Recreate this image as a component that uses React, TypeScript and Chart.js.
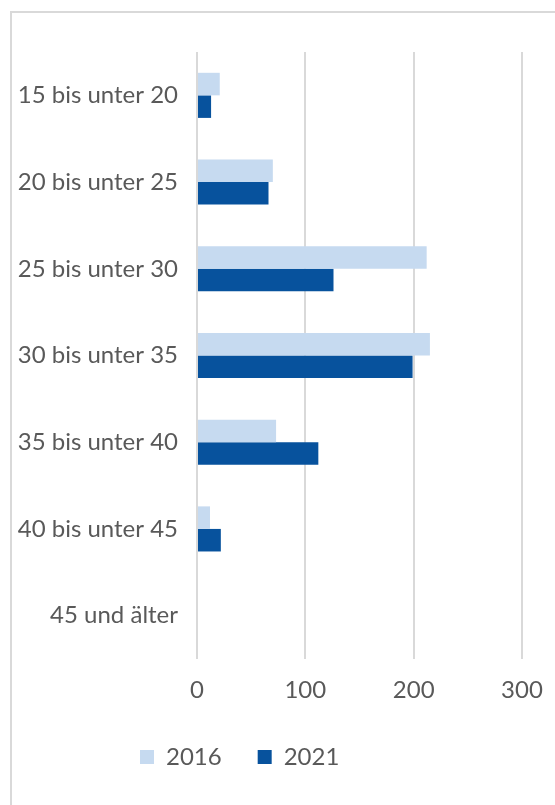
import React, { useEffect, useRef } from "react";
import { Chart, registerables } from "chart.js";

Chart.register(...registerables);

const categories = [
  "15 bis unter 20",
  "20 bis unter 25",
  "25 bis unter 30",
  "30 bis unter 35",
  "35 bis unter 40",
  "40 bis unter 45",
  "45 und älter",
];
const values2016 = [21, 70, 212, 215, 73, 12, 0];
const values2021 = [13, 66, 126, 199, 112, 22, 0];
const seriesLabels = ["2016", "2021"];
const xTicks = [0, 100, 200, 300];

const LIGHT = "#c6daf0";
const DARK = "#07529d";
const TEXT = "#595959";
const GRID = "#d9d9d9";
const FONT = "Lato";
const FS = 24;

const legendShift = {
  id: "legendShift",
  afterLayout(chart: any) {
    if (chart.legend) {
      const w = chart.legend.right - chart.legend.left;
      chart.legend.left = 104;
      chart.legend.right = 104 + w;
    }
  },
};

export default function App() {
  const ref = useRef<HTMLCanvasElement | null>(null);

  useEffect(() => {
    if (!ref.current) return;
    const chart = new Chart(ref.current, {
      type: "bar",
      data: {
        labels: categories,
        datasets: [
          { label: seriesLabels[0], data: values2016, backgroundColor: LIGHT, borderWidth: 0 },
          { label: seriesLabels[1], data: values2021, backgroundColor: DARK, borderWidth: 0 },
        ],
      },
      plugins: [legendShift],
      options: {
        indexAxis: "y",
        responsive: false,
        animation: false,
        maintainAspectRatio: false,
        datasets: { bar: { categoryPercentage: 0.52, barPercentage: 1 } },
        layout: { padding: { top: 52, left: 10, right: 33, bottom: 26 } },
        scales: {
          x: {
            min: xTicks[0],
            max: xTicks[xTicks.length - 1],
            afterBuildTicks: (s: any) => {
              s.ticks = xTicks.map((v) => ({ value: v }));
            },
            afterFit: (s: any) => {
              s.height = 50;
              s.paddingLeft = 0;
              s.paddingRight = 0;
            },
            grid: { color: GRID, lineWidth: 2, drawTicks: false },
            border: { display: false },
            ticks: { color: TEXT, font: { family: FONT, size: FS }, padding: 17 },
          },
          y: {
            grid: { display: false, drawTicks: false },
            border: { display: false },
            afterFit: (s: any) => {
              s.width = 187;
            },
            ticks: { color: TEXT, font: { family: FONT, size: FS }, padding: 19 },
          },
        },
        plugins: {
          legend: {
            position: "bottom",
            align: "start",
            labels: {
              color: TEXT,
              font: { family: FONT, size: FS },
              boxWidth: 14,
              boxHeight: 14,
              padding: 36,
            },
          },
          tooltip: { enabled: false },
        },
      },
    });
    return () => chart.destroy();
  }, []);

  return (
    <div
      style={{
        position: "fixed",
        left: 0,
        top: 0,
        width: 555,
        height: 805,
        overflow: "hidden",
        background: "#fff",
      }}
    >
      <div
        style={{
          position: "absolute",
          left: 10,
          top: 11,
          width: 700,
          height: 900,
          border: `2px solid ${GRID}`,
        }}
      />
      <canvas
        ref={ref}
        width={555}
        height={805}
        style={{ position: "absolute", left: 0, top: 0, width: 555, height: 805 }}
      />
    </div>
  );
}
